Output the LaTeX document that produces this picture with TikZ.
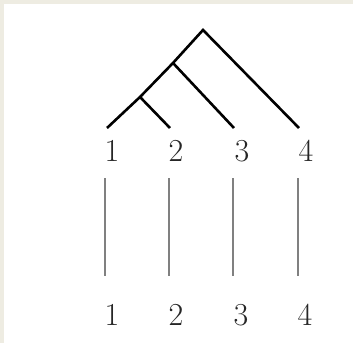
\documentclass[tikz,border=0pt]{standalone}
\definecolor{framebg}{HTML}{EEECE2}
\begin{document}
\begin{tikzpicture}[x=1pt,y=-1pt,
  tree/.style={line width=2.6pt,black},
  bar/.style={line width=2.8pt,black!50},
  num/.style={font=\fontsize{32}{34}\selectfont,inner sep=0pt,text=black!85}]
\fill[framebg] (0,0) rectangle (353,343);
\fill[white] (4,4) rectangle (353,343);
\useasboundingbox (0,0) rectangle (353,343);
% tree
\coordinate (r) at (203,30);
\coordinate (n2) at (173,63);
\coordinate (n1) at (140,97);
\coordinate (l1) at (107,128);
\coordinate (l2) at (170,128);
\coordinate (l3) at (234,128);
\coordinate (l4) at (299,128);
\draw[tree] (l1) -- (n1) -- (n2) -- (r) -- (l4);
\draw[tree] (n1) -- (l2);
\draw[tree] (n2) -- (l3);
% labels
\node[num] (t1) at (112,151) {1};
\node[num] (t2) at (176,151) {2};
\node[num] (t3) at (242,151) {3};
\node[num] (t4) at (306,151) {4};
\node[num] (b1) at (112,315) {1};
\node[num] (b2) at (176,315) {2};
\node[num] (b3) at (241,315) {3};
\node[num] (b4) at (305,315) {4};
% vertical bars
\coordinate (v1a) at (105,178); \coordinate (v1b) at (105,276);
\coordinate (v2a) at (169,178); \coordinate (v2b) at (169,276);
\coordinate (v3a) at (233,178); \coordinate (v3b) at (233,276);
\coordinate (v4a) at (298,178); \coordinate (v4b) at (298,276);
\draw[bar] (v1a) -- (v1b);
\draw[bar] (v2a) -- (v2b);
\draw[bar] (v3a) -- (v3b);
\draw[bar] (v4a) -- (v4b);
\end{tikzpicture}
\end{document}
